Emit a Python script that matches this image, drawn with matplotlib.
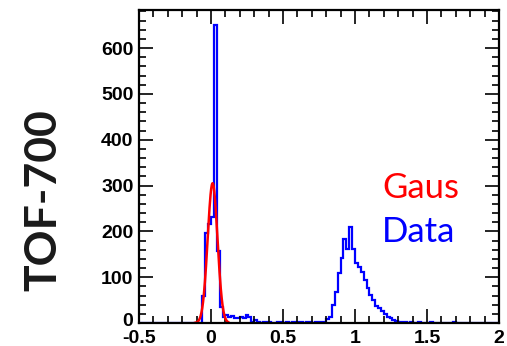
import numpy as np
import matplotlib
matplotlib.use("Agg")
import matplotlib.pyplot as plt
import matplotlib.transforms as mtransforms
from matplotlib.ticker import MultipleLocator, FormatStrFormatter

plt.rcParams['axes.unicode_minus'] = False

# Histogram: 125 bins of width 0.02 from -0.5 to 2.0
x_min, x_max, n_bins = -0.5, 2.0, 125
# counts for bins starting at -0.06 (earlier bins are empty)
first_bin_low = -0.06
counts_nonzero = [
    60, 197, 215, 231, 650, 157, 35, 14,          # -0.06 .. 0.10
    18, 14, 15, 11, 10, 14, 10, 18, 13, 3,        # 0.10 .. 0.30
    7, 2, 1, 3, 2, 2, 1, 1, 2, 3,                  # 0.30 .. 0.50
    1, 2, 1, 2, 1, 3, 2, 1, 2, 3,                  # 0.50 .. 0.70
    1, 2, 3, 2, 3, 9,                              # 0.70 .. 0.82
    14, 39, 68, 110, 141, 183, 161, 210, 161, 132, # 0.82 .. 1.02
    123, 112, 94, 76, 61, 50, 37, 33, 26, 19,     # 1.02 .. 1.22
    14, 10, 7, 5, 3, 2, 3, 1, 2, 1,                # 1.22 .. 1.42
    1, 2, 1, 0, 1, 2, 1, 0, 1, 0,                  # 1.42 .. 1.62
    1, 0, 1, 2, 1, 0, 1, 0, 0, 0,                  # 1.62 .. 1.82
]

# Gaussian fit parameters
gaus_const, gaus_mean, gaus_sigma = 305.0, 0.011, 0.034
fit_range = (-0.11, 0.12)

y_max = 683
x_tick_labels = ['-0.5', '0', '0.5', '1', '1.5', '2']
y_tick_values = [0, 100, 200, 300, 400, 500, 600]

edges = np.linspace(x_min, x_max, n_bins + 1)
counts = np.zeros(n_bins)
start = int(round((first_bin_low - x_min) / 0.02))
counts[start:start + len(counts_nonzero)] = counts_nonzero

fig = plt.figure(figsize=(5.07, 3.46), dpi=100)
ax = fig.add_axes([139 / 507, 1 - 323 / 346, (499 - 139) / 507, (323 - 10) / 346])

ax.stairs(counts, edges, color='#0000ff', linewidth=1.6, baseline=0)
xf = np.linspace(fit_range[0], fit_range[1], 300)
yf = gaus_const * np.exp(-0.5 * ((xf - gaus_mean) / gaus_sigma) ** 2)
ax.plot(xf, yf, color='#ff0000', linewidth=1.8)

ax.set_xlim(x_min, x_max)
ax.set_ylim(0, y_max)

ax.set_xticks(np.linspace(x_min, x_max, len(x_tick_labels)))
ax.set_xticklabels(x_tick_labels)
ax.set_yticks(y_tick_values)
ax.xaxis.set_minor_locator(MultipleLocator(0.1))
ax.yaxis.set_minor_locator(MultipleLocator(20))
ax.yaxis.set_major_formatter(FormatStrFormatter('%d'))

ax.tick_params(which='both', direction='in', top=True, right=True, width=1.2, colors='black')
ax.tick_params(which='major', length=10)
ax.tick_params(which='minor', length=5)
ax.tick_params(axis='y', pad=4)
ax.tick_params(axis='x', pad=5)
for s in ax.spines.values():
    s.set_linewidth(1.6)

for lab in ax.get_xticklabels() + ax.get_yticklabels():
    lab.set_fontfamily('Liberation Sans')
    lab.set_fontweight('bold')
    lab.set_fontsize(14)

# nudge the y-axis "0" label up slightly so it does not collide with "-0.5"
zero_lab = ax.yaxis.get_majorticklabels()[0]
zero_lab.set_transform(zero_lab.get_transform() +
                       mtransforms.ScaledTranslation(0, 3 / 100, fig.dpi_scale_trans))

fig.text(43 / 507, 1 - 200 / 346, 'TOF-700', rotation=90, ha='center', va='center',
         fontsize=32, fontfamily='Lato', fontweight='bold', color='#1a1a1a')
fig.text(421 / 507, 1 - 188 / 346, 'Gaus', ha='center', va='center',
         fontsize=25, fontfamily='Lato', color='#ff0000')
fig.text(419 / 507, 1 - 232 / 346, 'Data', ha='center', va='center',
         fontsize=25, fontfamily='Lato', color='#0000ff')

fig.savefig('out.png', dpi=100)
